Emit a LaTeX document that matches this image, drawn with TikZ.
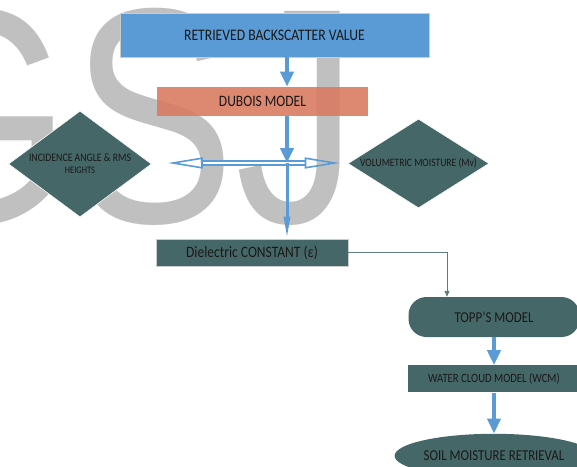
\documentclass[tikz,border=0pt]{standalone}
\usepackage{fontspec}
\setmainfont{Carlito}[FakeStretch=0.85]
\newfontfamily\wmfont{Liberation Sans}
\usepackage{xcolor}
\usetikzlibrary{shapes.geometric, arrows.meta, positioning}

\definecolor{boxblue}{HTML}{5B9BD5}
\definecolor{boxred}{HTML}{D97B62}
\definecolor{boxteal}{HTML}{466767}
\definecolor{linegray}{HTML}{5E7C7C}
\definecolor{wmgray}{HTML}{C0C0C0}
\newcommand{\fs}[1]{\fontsize{#1}{#1}\selectfont}

\begin{document}
\begin{tikzpicture}[x=1pt, y=-1pt,
        every node/.style={inner sep=0pt, text=black!90},
        box/.style={rectangle, draw=white!80!black, line width=0.6pt},
        dia/.style={diamond, fill=boxteal, draw=white, line width=0.6pt, align=center},
        fat/.style={draw=boxblue, line width=4.5pt, -{Triangle[width=13pt, length=15pt]}},
        dbl/.style={draw=boxblue, double=white, double distance=2.5pt, line width=1.6pt,
            {Triangle[open, length=35pt, width=11pt]}-{Triangle[open, length=35pt, width=11pt]}},
        thin/.style={draw=linegray, line width=1pt, -{Triangle[width=5pt, length=6pt]}}]
    \useasboundingbox (0,0) rectangle (577,466);
    \clip (0,0) rectangle (577,466);
    % watermark
    \node[anchor=base west, text=wmgray] (wm) at (-120,222)
        {\scalebox{0.8}[1]{\wmfont\fs{307}GSJ}};
%
    \node[box, fill=boxblue, minimum width=309pt, minimum height=44pt] (back) at (274.5,35)
        {\fs{16.1}RETRIEVED BACKSCATTER VALUE};
    \node[box, fill=boxred, fill opacity=0.9, text opacity=1, draw=none,
        minimum width=211pt, minimum height=29pt] (dubois) at (262.5,101.5)
        {\fs{15.9}DUBOIS MODEL};
    \node[dia, aspect=1.35, minimum width=143pt, minimum height=106pt] (inc) at (80,164)
        {\fontsize{11.5}{15}\selectfont INCIDENCE ANGLE \& RMS\\HEIGHTS};
    \node[dia, aspect=1.58, minimum width=141pt, minimum height=89pt] (vol) at (418.5,163.5)
        {\fs{11.3}VOLUMETRIC MOISTURE (Mv)};
    \node[box, fill=boxteal, minimum width=192pt, minimum height=27pt] (die) at (252,252.5)
        {\fs{15.9}Dielectric CONSTANT (ε)};
    \node[rectangle, rounded corners=18pt, fill=boxteal, minimum width=171pt,
        minimum height=40pt] (topp) at (494,317) {\fs{15.1}TOPP’S MODEL};
    \node[rectangle, fill=boxteal, minimum width=172pt, minimum height=27pt,
        below=28pt of topp] (wcm) {\fs{12.6}WATER CLOUD MODEL (WCM)};
    \node[ellipse, fill=boxteal, minimum width=174pt, minimum height=44pt,
        below=41pt of wcm] (soil) {\fs{15.1}SOIL MOISTURE RETRIEVAL};
%
    \coordinate (spine) at (287,163);
    \draw[fat] (back.south -| spine) -- (dubois.north -| spine);
    \draw[fat] (dubois.south -| spine) -- (spine);
    \draw[dbl, shorten <=16pt, shorten >=8pt] (inc.east |- spine) -- (vol.west |- spine);
    \draw[draw=boxblue, line width=3pt, -{Triangle[width=6pt, length=22pt]}]
        (spine) -- (die.north -| spine);
    \draw[thin] (die.east) -| ([xshift=-47pt]topp.north);
    \draw[fat] (topp.south) -- (wcm.north);
    \draw[fat] (wcm.south) -- (soil.north);
\end{tikzpicture}
\end{document}
